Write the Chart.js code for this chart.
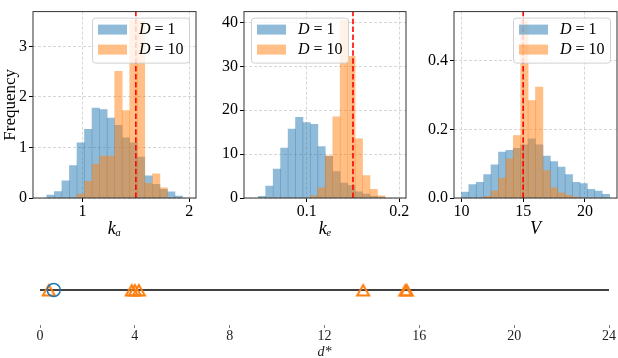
<!DOCTYPE html>
<html>
<head>
<meta charset="utf-8">
<script src="https://cdn.jsdelivr.net/npm/chart.js@4.4.0/dist/chart.umd.min.js"></script>
<style>
  html, body { margin: 0; padding: 0; background: #fff; }
  #wrap { position: relative; width: 618px; height: 358px; overflow: hidden; }
  canvas { position: absolute; }
</style>
</head>
<body>
<div id="wrap">
  <canvas id="kaChart" width="200" height="240" style="left:0;top:0"></canvas>
  <canvas id="keChart" width="210" height="240" style="left:200px;top:0"></canvas>
  <canvas id="vChart" width="208" height="240" style="left:410px;top:0"></canvas>
  <canvas id="dChart" width="618" height="122" style="left:0;top:240px"></canvas>
</div>
<script>
// k_a histogram (bin centres, density per run)
const kaBins = [0.701, 0.772, 0.843, 0.913, 0.984, 1.054, 1.125, 1.196, 1.266, 1.337, 1.407, 1.478, 1.548, 1.619, 1.690, 1.760, 1.831, 1.901];
const kaD1 = [0.06, 0.125, 0.34, 0.64, 1.09, 1.36, 1.78, 1.75, 1.58, 1.44, 1.19, 1.09, 0.81, 0.44, 0.27, 0.17, 0.12, 0.04];
const kaD10 = [0, 0, 0, 0, 0.08, 0.33, 0.67, 0.83, 0.83, 2.51, 1.73, 3.52, 3.50, 0.29, 0.48, 0.20, 0, 0];
const kaTicks = [1, 2];
const kaFreqTicks = [0, 1, 2, 3];

// k_e histogram
const keBins = [0.0518, 0.0598, 0.0679, 0.0759, 0.0840, 0.0920, 0.1000, 0.1081, 0.1161, 0.1241, 0.1322, 0.1402, 0.1483, 0.1563, 0.1643, 0.1724, 0.1804];
const keD1 = [0.4, 2.7, 6.6, 11.4, 15.7, 18.4, 17.2, 16.8, 11.7, 9.5, 6.0, 3.4, 2.9, 1.4, 0.9, 0.4, 0.2];
const keD10 = [0, 0, 0, 0, 0, 0, 0, 0.5, 2.3, 9.6, 18.5, 40.5, 32.3, 13.5, 5.1, 2.0, 0.5];
const keTicks = [0.1, 0.2];
const keFreqTicks = [0, 10, 20, 30, 40];

// V histogram
const vBins = [10.3, 10.9, 11.5, 12.1, 12.7, 13.3, 13.9, 14.5, 15.1, 15.7, 16.3, 16.9, 17.5, 18.1, 18.7, 19.3, 19.9, 20.5, 21.1, 21.7];
const vD1 = [0.017, 0.039, 0.046, 0.068, 0.097, 0.134, 0.139, 0.145, 0.155, 0.173, 0.155, 0.122, 0.106, 0.090, 0.068, 0.046, 0.042, 0.025, 0.020, 0.011];
const vD10 = [0, 0, 0, 0.005, 0.021, 0.058, 0.114, 0.182, 0.518, 0.284, 0.324, 0.080, 0.030, 0.015, 0.008, 0.003, 0, 0, 0, 0];
const vTicks = [10, 15, 20];
const vFreqTicks = [0, 0.2, 0.4];

// true parameter values (red dashed lines)
const trueKa = 1.5;
const trueKe = 0.15;
const trueV = 15;

// optimal design points d*
const dStarD1 = [0.58];
const dStarD10 = [0.37, 3.87, 4.0, 4.17, 13.63, 15.41, 15.47];
const dSpan = [0, 24];
const dTicks = [0, 4, 8, 12, 16, 20, 24];

const serif = "'Liberation Serif', 'DejaVu Serif', serif";
const blue = 'rgba(31, 119, 180, 0.5)';
const orange = 'rgba(255, 127, 14, 0.5)';
const gridColor = 'rgba(190, 190, 190, 0.8)';

// axes box like matplotlib spines
const framePlugin = {
    id: 'frame',
    afterDatasetsDraw(chart) {
        const {ctx, chartArea: a} = chart;
        ctx.save();
        ctx.strokeStyle = '#333';
        ctx.lineWidth = 1;
        ctx.strokeRect(a.left, a.top, a.right - a.left, a.bottom - a.top);
        ctx.restore();
    }
};

// legend drawn inside the plot with a translucent box
const boxLegend = {
    id: 'boxLegend',
    afterDatasetsDraw(chart, args, opts) {
        const {ctx, chartArea: a} = chart;
        const w = 97, h = 45;
        const x = opts.side === 'left' ? a.left + 7 : a.right - 7 - w;
        const y = a.top + 6;
        ctx.save();
        ctx.beginPath();
        ctx.roundRect(x + 0.5, y + 0.5, w, h, 3);
        ctx.fillStyle = 'rgba(255, 255, 255, 0.8)';
        ctx.fill();
        ctx.strokeStyle = '#d0d0d0';
        ctx.lineWidth = 1;
        ctx.stroke();
        const bars = chart.data.datasets.filter(d => d.type === 'bar');
        bars.forEach((d, i) => {
            const cy = y + 12 + i * 20;
            ctx.fillStyle = d.backgroundColor;
            ctx.fillRect(x + 6, cy - 5, 29, 10);
            ctx.fillStyle = '#000';
            ctx.textBaseline = 'middle';
            ctx.font = 'italic 16px ' + serif;
            ctx.fillText(d.label.charAt(0), x + 47, cy);
            const dw = ctx.measureText(d.label.charAt(0)).width;
            ctx.font = '16px ' + serif;
            ctx.fillText(d.label.slice(1), x + 47 + dw, cy);
        });
        ctx.restore();
    }
};

function histChart(id, cfg) {
    const toXY = vals => cfg.bins.map((b, i) => ({x: b, y: vals[i]}));
    const barOpts = {type: 'bar', grouped: false, barPercentage: 1, categoryPercentage: 1, borderWidth: 0};
    return new Chart(document.getElementById(id), {
        type: 'bar',
        data: {
            datasets: [
                {...barOpts, label: 'D = 1', data: toXY(cfg.d1), backgroundColor: blue, order: 3},
                {...barOpts, label: 'D = 10', data: toXY(cfg.d10), backgroundColor: orange, order: 2},
                {
                    type: 'line',
                    data: [{x: cfg.truth, y: 0}, {x: cfg.truth, y: cfg.yMax}],
                    borderColor: '#ff0000',
                    borderWidth: 1.6,
                    borderDash: [5.5, 2.4],
                    pointRadius: 0,
                    order: 1
                }
            ]
        },
        options: {
            responsive: false,
            animation: false,
            layout: {padding: {top: 2, right: cfg.padRight, left: 0, bottom: 0}},
            plugins: {
                legend: {display: false},
                tooltip: {enabled: false},
                boxLegend: {side: cfg.side}
            },
            scales: {
                x: {
                    type: 'linear',
                    min: cfg.xMin,
                    max: cfg.xMax,
                    offset: false,
                    grid: {offset: false, color: gridColor, lineWidth: 0.8, tickLength: 4, tickColor: '#000', tickWidth: 1},
                    border: {display: false, dash: [3, 2]},
                    ticks: {font: {family: serif, size: 16}, color: '#000', padding: 0, maxRotation: 0, callback: cfg.fmtX},
                    afterBuildTicks: s => { s.ticks = cfg.xTicks.map(v => ({value: v})); },
                    afterFit: s => { s.height = 42; },
                    title: {display: true, text: cfg.xTitle, font: {family: serif, size: 18, style: 'italic'}, color: '#000', padding: {top: 0, bottom: 0}}
                },
                y: {
                    min: 0,
                    max: cfg.yMax,
                    grid: {color: gridColor, lineWidth: 0.8, tickLength: 4, tickColor: '#000', tickWidth: 1},
                    border: {display: false, dash: [3, 2]},
                    ticks: {font: {family: serif, size: 16}, color: '#000', padding: 2, callback: cfg.fmtY},
                    afterBuildTicks: s => { s.ticks = cfg.yTicks.map(v => ({value: v})); },
                    afterFit: s => { s.width = cfg.yWidth; },
                    title: {display: !!cfg.yTitle, text: cfg.yTitle, font: {family: serif, size: 17}, color: '#000', padding: 0}
                }
            }
        },
        plugins: [framePlugin, boxLegend]
    });
}

histChart('kaChart', {
    bins: kaBins, d1: kaD1, d10: kaD10, truth: trueKa,
    xMin: 0.537, xMax: 2.063, xTicks: kaTicks, yMax: 3.69, yTicks: kaFreqTicks,
    fmtX: v => String(v), fmtY: v => String(v),
    yWidth: 33, padRight: 4, side: 'right', xTitle: 'kₐ', yTitle: 'Frequency'
});

histChart('keChart', {
    bins: keBins, d1: keD1, d10: keD10, truth: trueKe,
    xMin: 0.0324, xMax: 0.2072, xTicks: keTicks, yMax: 42.5, yTicks: keFreqTicks,
    fmtX: v => v.toFixed(1), fmtY: v => String(v),
    yWidth: 44, padRight: 4, side: 'left', xTitle: 'kₑ', yTitle: ''
});

histChart('vChart', {
    bins: vBins, d1: vD1, d10: vD10, truth: trueV,
    xMin: 9.4, xMax: 22.6, xTicks: vTicks, yMax: 0.544, yTicks: vFreqTicks,
    fmtX: v => String(v), fmtY: v => v.toFixed(1),
    yWidth: 44, padRight: 1, side: 'right', xTitle: 'V', yTitle: ''
});

// open triangle marker, matplotlib '^' style
function triangleMarker(color) {
    const c = document.createElement('canvas');
    c.width = 16;
    c.height = 16;
    const g = c.getContext('2d');
    g.strokeStyle = color;
    g.lineWidth = 2;
    g.beginPath();
    g.moveTo(8, 3);
    g.lineTo(14, 13.5);
    g.lineTo(2, 13.5);
    g.closePath();
    g.stroke();
    return c;
}

new Chart(document.getElementById('dChart'), {
    type: 'scatter',
    data: {
        datasets: [
            {
                label: 'D = 1',
                data: dStarD1.map(v => ({x: v, y: 0})),
                pointStyle: 'circle',
                pointRadius: 6.5,
                borderColor: '#1f77b4',
                borderWidth: 1.5,
                backgroundColor: 'rgba(0, 0, 0, 0)',
                clip: false,
                order: 1
            },
            {
                label: 'D = 10',
                data: dStarD10.map(v => ({x: v, y: 0})),
                pointStyle: triangleMarker('#ff7f0e'),
                pointRadius: 8,
                clip: false,
                order: 2
            },
            {
                type: 'line',
                data: dSpan.map(v => ({x: v, y: 0})),
                borderColor: '#000',
                borderWidth: 1.5,
                pointRadius: 0,
                order: 3
            }
        ]
    },
    options: {
        responsive: false,
        animation: false,
        layout: {padding: {top: 15, left: 40, right: 7, bottom: 0}},
        plugins: {legend: {display: false}, tooltip: {enabled: false}},
        scales: {
            x: {
                type: 'linear',
                min: dSpan[0],
                max: dSpan[1],
                grid: {drawOnChartArea: false, tickLength: 3, tickColor: '#555', tickWidth: 0.8},
                border: {display: false},
                ticks: {font: {family: serif, size: 14}, color: '#222', padding: 0, maxRotation: 0},
                afterBuildTicks: s => { s.ticks = dTicks.map(v => ({value: v})); },
                afterFit: s => { s.height = 37; },
                title: {display: true, text: 'd*', font: {family: serif, size: 14, style: 'italic'}, color: '#222', padding: {top: 0, bottom: 1}}
            },
            y: {min: -1, max: 1, display: false}
        }
    }
});
</script>
</body>
</html>
